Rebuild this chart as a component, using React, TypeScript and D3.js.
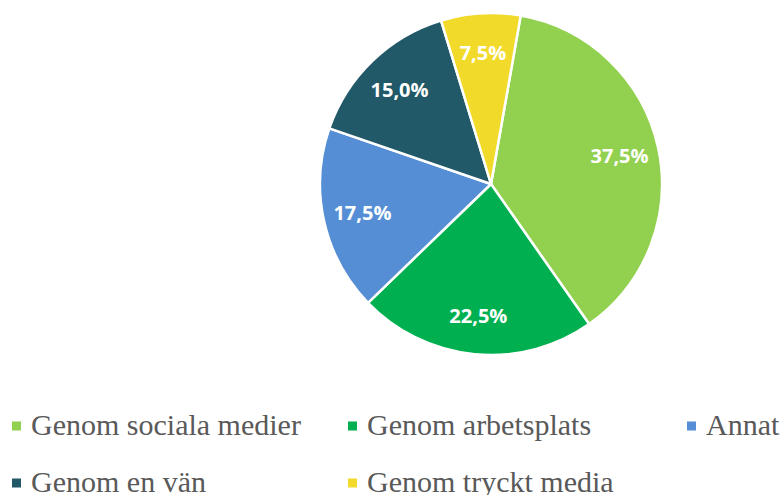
import React, { useEffect, useRef } from 'react'
import * as d3 from 'd3'

const categories = ['Genom sociala medier', 'Genom arbetsplats', 'Annat', 'Genom en vän', 'Genom tryckt media']
const shares = [37.5, 22.5, 17.5, 15.0, 7.5]
const colors = ['#92D050', '#00B050', '#558ED5', '#215968', '#F2DA2A']

const width = 781
const height = 495

function PieChart() {
  const ref = useRef<SVGSVGElement>(null)

  useEffect(() => {
    drawChart()
  })

  function drawChart() {
    const svg = d3.select(ref.current)
    svg.selectAll('*').remove()

    const cx = 491
    const cy = 184
    const radius = 171

    const data = categories.map((c, i) => ({ head: c, value: shares[i] }))

    const color = d3.scaleOrdinal<string, string>().domain(categories).range(colors)

    // Excel rotated the first slice by ~10 degrees
    const start = (10 * Math.PI) / 180
    const pie = d3
      .pie<{ head: string; value: number }>()
      .sort(null)
      .value((d) => d.value)
      .startAngle(start)
      .endAngle(start + 2 * Math.PI)

    const arcGen = d3.arc<d3.PieArcDatum<{ head: string; value: number }>>().innerRadius(0).outerRadius(radius)
    const labelArc = d3
      .arc<d3.PieArcDatum<{ head: string; value: number }>>()
      .innerRadius(radius * 0.77)
      .outerRadius(radius * 0.77)

    const g = svg.append('g').attr('transform', `translate(${cx}, ${cy})`)

    const slices = g.selectAll('g.slice').data(pie(data)).enter().append('g').attr('class', 'slice')

    slices
      .append('path')
      .attr('d', arcGen)
      .style('fill', (d) => color(d.data.head))
      .style('stroke', '#ffffff')
      .style('stroke-width', 2.5)
      .style('stroke-linejoin', 'round')

    slices
      .append('text')
      .attr('transform', (d) => {
        const [x, y] = labelArc.centroid(d)
        return `translate(${x}, ${y})`
      })
      .attr('text-anchor', 'middle')
      .attr('dominant-baseline', 'central')
      .style('fill', '#ffffff')
      .style('font-family', "'Open Sans', sans-serif")
      .style('font-weight', 'bold')
      .style('font-size', '20px')
      .text((d) => d.data.value.toFixed(1).replace('.', ',') + '%')

    // legend, three per row
    const colX = [12, 348, 687]
    const rowY = [426, 483]

    const legend = svg
      .append('g')
      .selectAll('g.legend')
      .data(categories)
      .enter()
      .append('g')
      .attr('class', 'legend')
      .attr('transform', (d, i) => `translate(${colX[i % 3]}, ${rowY[Math.floor(i / 3)]})`)

    legend
      .append('rect')
      .attr('x', 0)
      .attr('y', -4.5)
      .attr('width', 9)
      .attr('height', 9)
      .style('fill', (d) => color(d))

    legend
      .append('text')
      .attr('x', 19)
      .attr('y', 9)
      .style('fill', '#595959')
      .style('font-family', "'Liberation Serif', 'Times New Roman', serif")
      .style('font-size', '30px')
      .text((d) => d)
  }

  return <svg ref={ref} width={width} height={height} style={{ display: 'block', background: 'white' }} />
}

export default function App() {
  return (
    <div style={{ position: 'absolute', left: 0, top: 0 }}>
      <PieChart />
    </div>
  )
}
